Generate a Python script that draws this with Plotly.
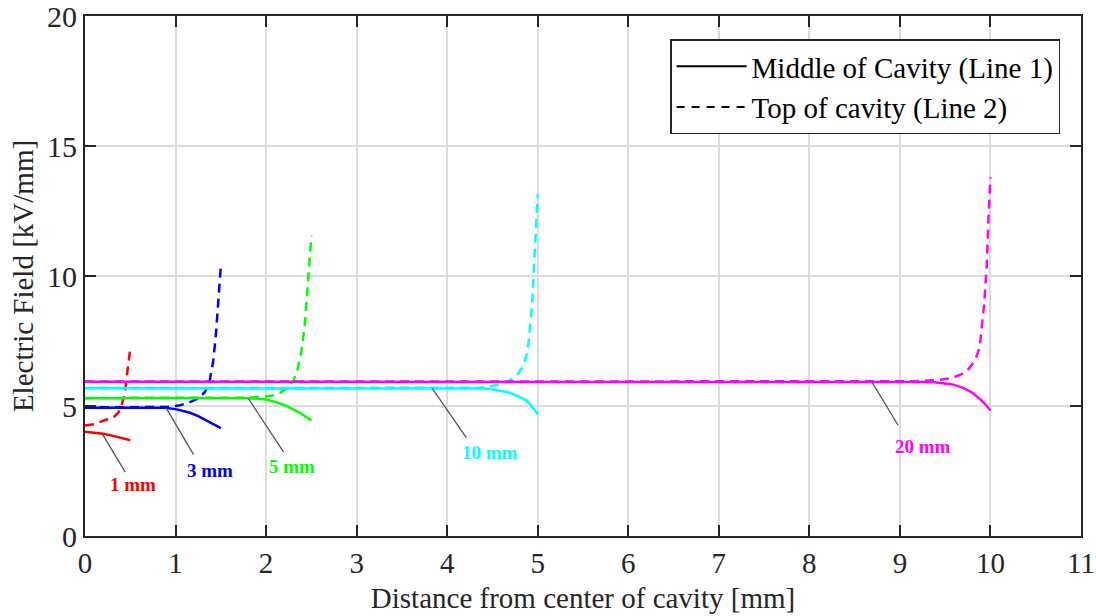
import plotly.graph_objects as go

# Cavity sizes and their colours
cavity_labels = ["1 mm", "3 mm", "5 mm", "10 mm", "20 mm"]
cavity_colors = ["#FF0000", "#0000FF", "#00FF00", "#00FFFF", "#FF00FF"]

# Line 1: field along the middle of the cavity [kV/mm] vs distance [mm]
x_mid_1mm = [0, 0.1, 0.2, 0.3, 0.4, 0.5]
e_mid_1mm = [4.01, 3.98, 3.93, 3.86, 3.78, 3.68]
x_mid_3mm = [0, 0.5, 0.88, 1.0, 1.16, 1.25, 1.34, 1.42, 1.5]
e_mid_3mm = [4.93, 4.93, 4.93, 4.88, 4.74, 4.61, 4.44, 4.31, 4.15]
x_mid_5mm = [0, 1.0, 1.82, 2.0, 2.12, 2.23, 2.37, 2.45, 2.5]
e_mid_5mm = [5.30, 5.30, 5.30, 5.25, 5.14, 4.99, 4.74, 4.56, 4.44]
x_mid_10mm = [0, 2.0, 4.2, 4.43, 4.6, 4.69, 4.8, 4.875, 4.94, 5.0]
e_mid_10mm = [5.68, 5.68, 5.68, 5.67, 5.58, 5.51, 5.35, 5.21, 4.97, 4.67]
x_mid_20mm = [0, 5.0, 9.2, 9.36, 9.58, 9.7, 9.8, 9.9, 9.96, 10.0]
e_mid_20mm = [5.93, 5.93, 5.93, 5.92, 5.83, 5.70, 5.51, 5.22, 5.00, 4.83]

# Line 2: field along the top of the cavity [kV/mm] vs distance [mm]
x_top_1mm = [0, 0.1, 0.19, 0.26, 0.32, 0.37, 0.40, 0.43, 0.445, 0.46, 0.47, 0.485, 0.5]
e_top_1mm = [4.25, 4.30, 4.42, 4.50, 4.58, 4.75, 4.99, 5.35, 5.63, 6.00, 6.40, 6.80, 7.20]
x_top_3mm = [0, 0.5, 0.9, 1.05, 1.15, 1.25, 1.32, 1.37, 1.416, 1.446, 1.47, 1.49, 1.5]
e_top_3mm = [4.95, 4.95, 4.96, 5.03, 5.13, 5.29, 5.52, 5.83, 6.72, 7.75, 8.90, 10.0, 10.38]
x_top_5mm = [0, 1.0, 1.8, 2.04, 2.15, 2.245, 2.30, 2.343, 2.39, 2.428, 2.454, 2.475, 2.5]
e_top_5mm = [5.31, 5.31, 5.32, 5.38, 5.50, 5.70, 5.95, 6.34, 7.10, 8.13, 9.42, 10.5, 11.55]
x_top_10mm = [0, 2.0, 4.35, 4.5, 4.6, 4.69, 4.78, 4.84, 4.88, 4.905, 4.94, 4.967, 4.985, 5.0]
e_top_10mm = [5.69, 5.69, 5.70, 5.77, 5.85, 5.98, 6.22, 6.53, 7.00, 7.62, 9.03, 10.95, 12.0, 13.15]
x_top_20mm = [0, 5.0, 9.15, 9.4, 9.58, 9.7, 9.77, 9.83, 9.88, 9.93, 9.96, 9.98, 10.0]
e_top_20mm = [5.94, 5.94, 5.95, 5.99, 6.08, 6.25, 6.47, 6.75, 7.24, 8.90, 10.44, 12.37, 13.8]

mid_curves = [(x_mid_1mm, e_mid_1mm), (x_mid_3mm, e_mid_3mm), (x_mid_5mm, e_mid_5mm),
              (x_mid_10mm, e_mid_10mm), (x_mid_20mm, e_mid_20mm)]
top_curves = [(x_top_1mm, e_top_1mm), (x_top_3mm, e_top_3mm), (x_top_5mm, e_top_5mm),
              (x_top_10mm, e_top_10mm), (x_top_20mm, e_top_20mm)]

x_ticks = list(range(0, 12))
y_ticks = [0, 5, 10, 15, 20]

# Label placement: leader line start/end and text centre, in data units
label_layout = [
    dict(p0=(0.196, 3.90), p1=(0.445, 2.46), text=(0.53, 2.00)),
    dict(p0=(0.896, 4.93), p1=(1.197, 3.14), text=(1.38, 2.52)),
    dict(p0=(1.807, 5.27), p1=(2.194, 3.23), text=(2.29, 2.68)),
    dict(p0=(3.835, 5.68), p1=(4.211, 3.78), text=(4.47, 3.22)),
    dict(p0=(8.69, 5.93), p1=(8.98, 4.26), text=(9.26, 3.46)),
]

SERIF = "Liberation Serif, Times New Roman, serif"
AXIS_COLOR = "#262626"
DASH = "9px,6px"

fig = go.Figure()

for (xm, em), (xt, et), col in zip(mid_curves, top_curves, cavity_colors):
    fig.add_trace(go.Scatter(x=xm, y=em, mode="lines", showlegend=False,
                             line=dict(color=col, width=2.5), hoverinfo="skip"))
    fig.add_trace(go.Scatter(x=xt, y=et, mode="lines", showlegend=False,
                             line=dict(color=col, width=2.5, dash=DASH), hoverinfo="skip"))

# Legend entries (black line styles)
fig.add_trace(go.Scatter(x=[None], y=[None], mode="lines", name="Middle of Cavity (Line 1)",
                         line=dict(color="black", width=2)))
fig.add_trace(go.Scatter(x=[None], y=[None], mode="lines", name="Top of cavity (Line 2)",
                         line=dict(color="black", width=2, dash="8px,7px")))

for lab, col, pos in zip(cavity_labels, cavity_colors, label_layout):
    (x0, y0), (x1, y1) = pos["p0"], pos["p1"]
    fig.add_shape(type="line", x0=x0, y0=y0, x1=x1, y1=y1, xref="x", yref="y",
                  line=dict(color="#555555", width=1.3))
    tx, ty = pos["text"]
    fig.add_annotation(x=tx, y=ty, xref="x", yref="y", text="<b>%s</b>" % lab,
                       showarrow=False, font=dict(family=SERIF, size=19, color=col))

axis_common = dict(
    showline=True, linecolor=AXIS_COLOR, linewidth=2, mirror="ticks",
    ticks="inside", ticklen=11, tickwidth=2, tickcolor=AXIS_COLOR,
    showgrid=True, gridcolor="#dcdcdc", gridwidth=1.6, zeroline=False,
    automargin=False, ticklabeloverflow="allow",
)

fig.update_xaxes(range=[0, 11], tickvals=x_ticks, **axis_common,
                 tickfont=dict(family=SERIF, size=29, color=AXIS_COLOR),
                 title=dict(text="Distance from center of cavity [mm]", standoff=10,
                            font=dict(family=SERIF, size=29, color=AXIS_COLOR)))
fig.update_yaxes(range=[0, 20], tickvals=y_ticks, **axis_common,
                 tickfont=dict(family=SERIF, size=30, color=AXIS_COLOR),
                 title=dict(text="Electric Field [kV/mm]", standoff=5,
                            font=dict(family=SERIF, size=29, color=AXIS_COLOR)))

fig.update_layout(
    width=1096, height=616,
    margin=dict(l=85, r=15, t=16, b=80),
    plot_bgcolor="white", paper_bgcolor="white",
    legend=dict(x=0.979, y=0.955, xanchor="right", yanchor="top",
                bgcolor="white", bordercolor="#262626", borderwidth=1.5,
                font=dict(family=SERIF, size=29, color="black"),
                itemwidth=70, tracegroupgap=0),
)

fig.write_html("out.html")
